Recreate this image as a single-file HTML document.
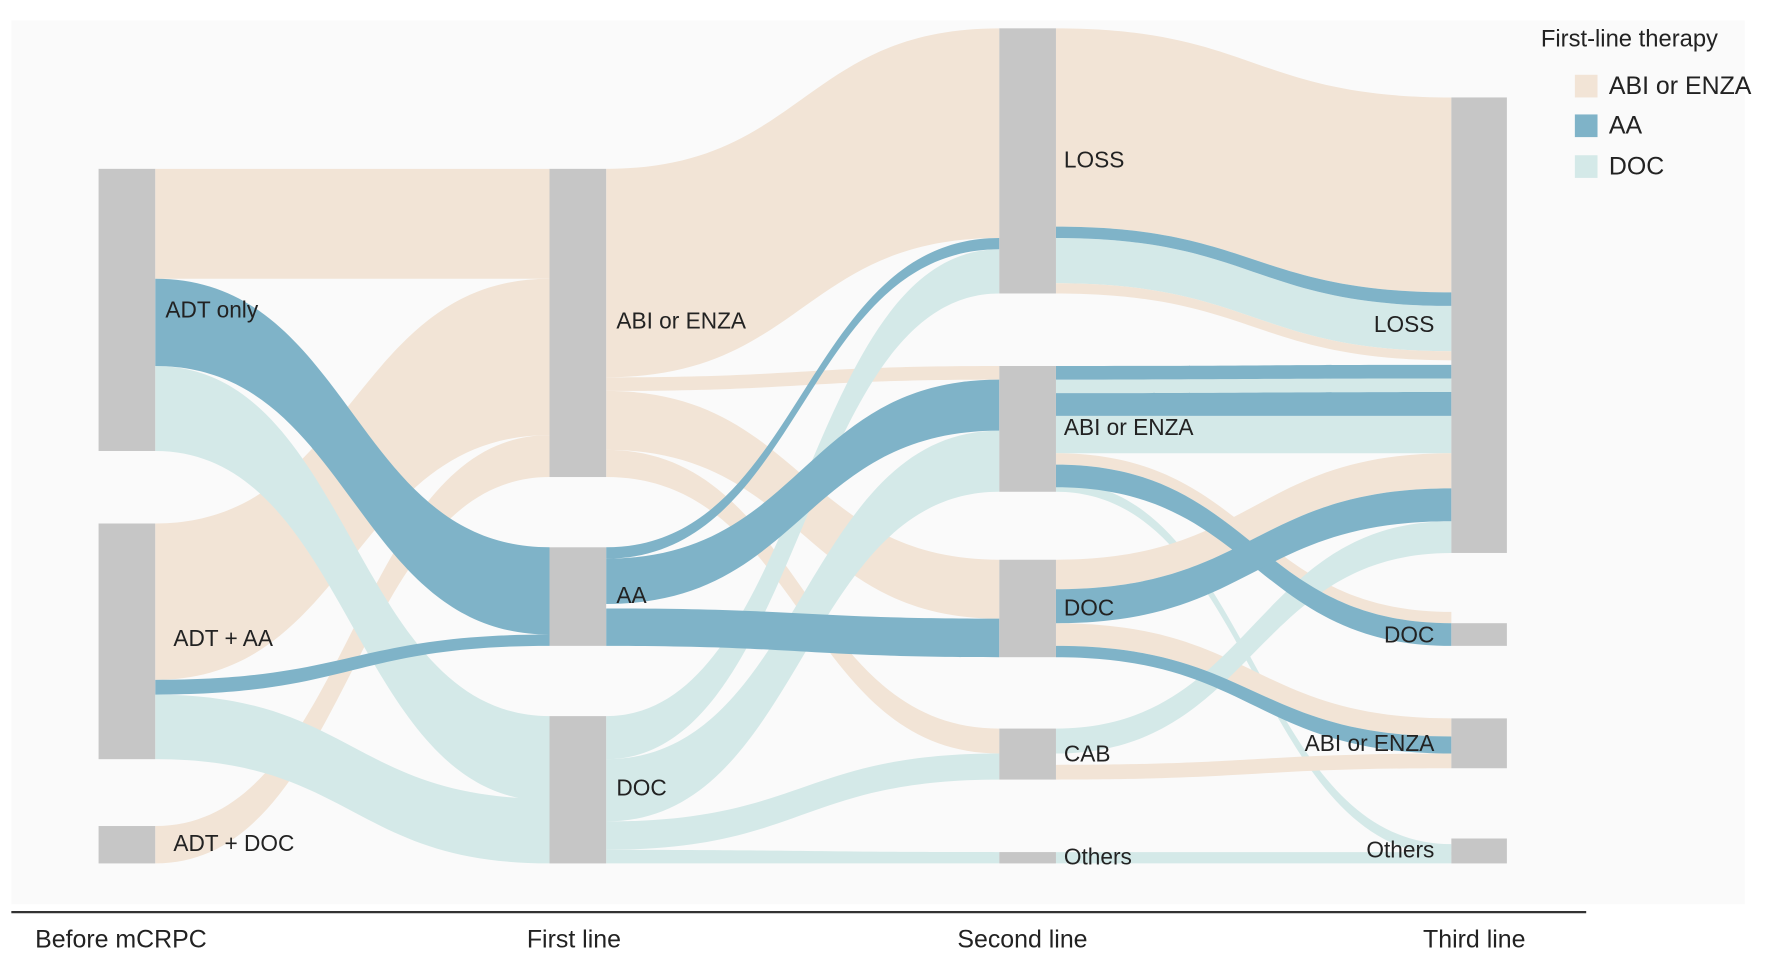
<!DOCTYPE html>
<html><head><meta charset="utf-8"><style>
html,body{margin:0;padding:0;background:#fff;}
svg{display:block;font-family:"Liberation Sans",sans-serif;}
</style></head><body>
<svg id="s" width="1772" height="962" viewBox="0 0 1564 849" preserveAspectRatio="none">
<rect x="10" y="18" width="1530" height="780" fill="#fafafa"/>
<g id="flows"></g>
<g fill="#c6c6c6">
<rect x="87" y="149" width="50" height="249"/>
<rect x="87" y="462" width="50" height="208"/>
<rect x="87" y="729" width="50" height="33"/>
<rect x="485" y="149" width="50" height="272"/>
<rect x="485" y="483" width="50" height="87"/>
<rect x="485" y="632" width="50" height="130"/>
<rect x="882" y="25" width="50" height="234"/>
<rect x="882" y="323" width="50" height="111"/>
<rect x="882" y="494" width="50" height="86"/>
<rect x="882" y="643" width="50" height="45"/>
<rect x="882" y="752" width="50" height="10"/>
<rect x="1281" y="86" width="49" height="402"/>
<rect x="1281" y="550" width="49" height="20"/>
<rect x="1281" y="634" width="49" height="44"/>
<rect x="1281" y="740" width="49" height="22"/>
</g>
<g font-size="20" fill="#222">
<text x="146" y="280">ADT only</text>
<text x="153" y="570">ADT + AA</text>
<text x="153" y="751">ADT + DOC</text>
<text x="544" y="290">ABI or ENZA</text>
<text x="544" y="532">AA</text>
<text x="544" y="702">DOC</text>
<text x="939" y="148">LOSS</text>
<text x="939" y="384">ABI or ENZA</text>
<text x="939" y="543">DOC</text>
<text x="939" y="672">CAB</text>
<text x="939" y="763">Others</text>
<text x="1266" y="293" text-anchor="end">LOSS</text>
<text x="1266" y="567" text-anchor="end">DOC</text>
<text x="1266" y="663" text-anchor="end">ABI or ENZA</text>
<text x="1266" y="757" text-anchor="end">Others</text>
<text x="1360" y="41" font-size="21">First-line therapy</text>
<text x="1420" y="83" font-size="22">ABI or ENZA</text>
<text x="1420" y="118" font-size="22">AA</text>
<text x="1420" y="154" font-size="22">DOC</text>
<text x="31" y="836" font-size="22">Before mCRPC</text>
<text x="465" y="836" font-size="22">First line</text>
<text x="845" y="836" font-size="22">Second line</text>
<text x="1256" y="836" font-size="22">Third line</text>
</g>
<rect x="1390" y="66" width="20" height="20" fill="#f2e4d6"/>
<rect x="1390" y="101" width="20" height="20" fill="#7fb3c8"/>
<rect x="1390" y="137" width="20" height="20" fill="#d4e9e8"/>
<line x1="10" y1="805" x2="1400" y2="805" stroke="#333" stroke-width="2"/>
</svg>
<script>
var P="#f2e4d6",B="#7fb3c8",T="#d4e9e8";
var F=[
[137,485,149,246,149,246,P],
[137,485,462,600,246,384,P],
[137,485,729,762,384,421,P],
[137,485,323,398,632,707,T],
[137,485,613,670,705,762,T],
[535,882,149,333,25,210,P],
[535,882,333,345,323,335,P],
[535,882,345,397,494,546,P],
[535,882,397,421,643,665,P],
[535,882,632,670,220,259,T],
[535,882,670,725,380,434,T],
[535,882,725,750,665,688,T],
[535,882,750,762,752,762,T],
[932,1281,25,200,86,258,P],
[932,1281,210,250,270,310,T],
[932,1281,250,259,310,318,P],
[932,1281,335,347,334,346,T],
[932,1281,367,400,367,400,T],
[932,1281,400,410,540,550,P],
[932,1281,425,434,745,755,T],
[932,1281,494,520,400,431,P],
[932,1281,550,570,634,650,P],
[932,1281,643,665,460,488,T],
[932,1281,675,688,665,678,P],
[932,1281,752,762,752,762,T],
[137,485,246,323,483,560,B],
[137,485,600,613,560,570,B],
[535,882,483,493,210,220,B],
[535,882,493,533,335,380,B],
[535,882,537,570,546,580,B],
[932,1281,200,210,258,270,B],
[932,1281,323,335,322,334,B],
[932,1281,347,367,346,367,B],
[932,1281,410,430,550,570,B],
[932,1281,520,550,431,460,B],
[932,1281,570,580,650,665,B]
];
var g=document.getElementById("flows"),h="";
F.forEach(function(f){var x0=f[0],x1=f[1],m=(x0+x1)/2;
h+='<path fill="'+f[6]+'" d="M'+x0+' '+f[2]+' C'+m+' '+f[2]+' '+m+' '+f[4]+' '+x1+' '+f[4]+' L'+x1+' '+f[5]+' C'+m+' '+f[5]+' '+m+' '+f[3]+' '+x0+' '+f[3]+' Z"/>';});
g.innerHTML=h;
</script>
</body></html>
